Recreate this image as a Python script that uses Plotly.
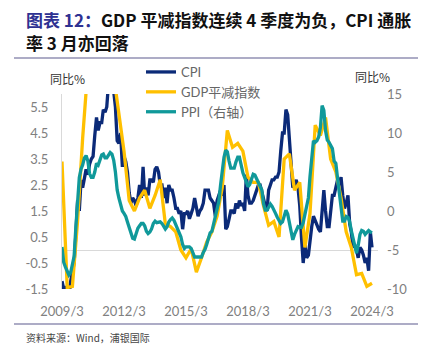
import pandas as pd
import plotly.graph_objects as go

# ---------------- data ----------------
cpi = [
    -1.2, -1.5, -1.4, -1.7, -1.8, -1.2, -0.8, -0.5, 0.6, 1.9,
    1.5, 2.7, 2.4, 2.8, 3.1, 2.9, 3.3, 3.5, 3.6, 4.4, 5.1, 4.6,
    4.9, 4.9, 5.4, 5.3, 5.5, 6.4, 6.5, 6.2, 6.1, 5.5, 4.2, 4.1,
    4.5, 3.2, 3.6, 3.4, 3.0, 2.2, 1.8, 2.0, 1.9, 1.7, 2.0, 2.5,
    2.0, 3.2, 2.1, 2.4, 2.1, 2.7, 2.7, 2.6, 3.1, 3.2, 3.0, 2.5,
    2.5, 2.0, 2.4, 1.8, 2.5, 2.3, 2.3, 2.0, 1.6, 1.6, 1.4, 1.5,
    0.8, 1.4, 1.4, 1.5, 1.2, 1.4, 1.6, 2.0, 1.6, 1.3, 1.5, 1.6,
    1.8, 2.3, 2.3, 2.3, 2.0, 1.9, 1.8, 1.3, 1.9, 2.1, 2.3, 2.1,
    2.5, 0.8, 0.9, 1.2, 1.5, 1.5, 1.4, 1.8, 1.6, 1.9, 1.7, 1.8,
    1.5, 2.9, 2.1, 1.8, 1.8, 1.9, 2.1, 2.3, 2.5, 2.5, 2.2, 1.9,
    1.7, 1.5, 2.3, 2.5, 2.7, 2.7, 2.8, 2.8, 3.0, 3.8, 4.5, 4.5,
    5.4, 5.2, 4.3, 3.3, 2.4, 2.5, 2.7, 2.4, 1.7, 0.5, -0.5, 0.2,
    -0.3, -0.2, 0.4, 0.9, 1.3, 1.1, 1.0, 0.8, 0.7, 1.5, 2.3, 1.5,
    0.9, 0.9, 1.5, 2.1, 2.1, 2.5, 2.7, 2.5, 2.8, 2.1, 1.6, 1.8,
    2.1, 1.0, 0.7, 0.1, 0.2, 0.0, -0.3, 0.1, 0.0, -0.2, -0.5, -0.3,
    -0.8, 0.7, 0.1,
]
ppi = [
    -4.6, -6.6, -7.2, -7.8, -8.2, -7.9, -7.0, -5.8, -2.1, 1.7,
    4.3, 5.4, 5.9, 6.8, 7.1, 6.4, 4.8, 4.3, 4.3, 5.0, 6.1, 5.9,
    6.6, 7.2, 7.3, 6.8, 6.8, 7.1, 7.5, 7.3, 6.5, 5.0, 2.7, 1.7,
    0.7, 0.0, -0.3, -0.7, -1.4, -2.1, -2.9, -3.5, -3.6, -2.8, -2.2, -1.9,
    -1.6, -1.6, -1.9, -2.6, -2.9, -2.7, -2.3, -1.6, -1.3, -1.5, -1.4, -1.4,
    -1.6, -2.0, -2.3, -2.0, -1.4, -1.1, -0.9, -1.2, -1.8, -2.2, -2.7, -3.3,
    -4.3, -4.8, -4.6, -4.6, -4.6, -4.8, -5.4, -5.9, -5.9, -5.9, -5.9, -5.9,
    -5.3, -4.9, -4.3, -3.4, -2.8, -2.6, -1.7, -0.8, 0.1, 1.2, 3.3, 5.5,
    6.9, 7.8, 7.6, 6.4, 5.5, 5.5, 5.5, 6.3, 6.9, 6.9, 5.8, 4.9,
    4.3, 3.7, 3.1, 3.4, 4.1, 4.7, 4.6, 4.1, 3.6, 3.3, 2.7, 0.9,
    0.1, 0.1, 0.4, 0.9, 0.6, 0.0, -0.3, -0.8, -1.2, -1.6, -1.4, -0.5,
    0.1, -0.4, -1.5, -3.1, -3.7, -3.0, -2.4, -2.0, -2.1, -2.1, -1.5, -0.4,
    0.3, 1.7, 4.4, 6.8, 9.0, 8.8, 9.0, 9.5, 10.7, 13.5, 12.9, 10.3,
    9.1, 8.8, 8.3, 8.0, 6.4, 6.1, 4.2, 2.3, 0.9, -1.3, -1.3, -0.7,
    -0.8, -1.4, -2.5, -3.6, -4.6, -5.4, -4.4, -3.0, -2.5, -2.6, -3.0, -2.7,
    -2.5, -2.7, -2.8,
]
gdp_deflator = [
    3.4, -1.45, -1.4, 1.1,
    4.3, 7.0, 6.8, 7.8,
    7.5, 8.0, 6.7, 5.3,
    3.8, 1.9, 1.5, 2.0,
    2.3, 1.6, 2.1, 2.7,
    1.0, 0.9, 0.7, 0.0,
    -0.3, 0.05, -0.85, -0.3,
    0.3, 0.7, 1.3, 2.4,
    4.6, 3.95, 4.1, 3.8,
    2.8, 2.6, 2.6, 1.7,
    0.95, 1.1, 0.5, 3.5,
    3.7, 2.3, 2.6, 0.1,
    1.4, 4.8, 4.4, 5.1,
    3.5, 3.0, 2.0, 0.7,
    0.1, -0.95, -0.9, -1.4,
    -1.28,
]
month_dates = pd.date_range("2009-03-01", periods=len(cpi), freq="MS")
quarter_dates = pd.date_range("2009-03-01", periods=len(gdp_deflator), freq="3MS")

x_tick_dates = ["2009-03-01", "2012-03-01", "2015-03-01", "2018-03-01", "2021-03-01", "2024-03-01"]
x_tick_text = ["2009/3", "2012/3", "2015/3", "2018/3", "2021/3", "2024/3"]
left_ticks = [-1.5, -0.5, 0.5, 1.5, 2.5, 3.5, 4.5, 5.5]
right_ticks = [-10, -5, 0, 5, 10, 15]

C_CPI = "#0b2a78"
C_GDP = "#ffc000"
C_PPI = "#10999a"

fig = go.Figure()
fig.add_trace(go.Scatter(x=month_dates, y=cpi, name="CPI", mode="lines",
                         line=dict(color=C_CPI, width=3.3)))
fig.add_trace(go.Scatter(x=quarter_dates, y=gdp_deflator, name="GDP平减指数", mode="lines",
                         line=dict(color=C_GDP, width=3.3)))
fig.add_trace(go.Scatter(x=month_dates, y=ppi, name="PPI（右轴）", mode="lines",
                         line=dict(color=C_PPI, width=3.3), yaxis="y2"))

L, R, T, B = 62, 48, 94, 65
W, H = 426, 354
PW, PH = W - L - R, H - T - B


def px(xp):
    return (xp - L) / PW


def py(yp):
    return (H - B - yp) / PH


tick_font = dict(family="Lato, Liberation Sans, sans-serif", size=13, color="#808080")

fig.update_layout(
    width=W, height=H,
    margin=dict(l=L, r=R, t=T, b=B, pad=0),
    paper_bgcolor="white", plot_bgcolor="white",
    showlegend=True,
    legend=dict(x=px(141), y=py(57), xanchor="left", yanchor="top",
                font=dict(family="Lato, Noto Sans CJK SC, sans-serif", size=13, color="#666666"),
                bgcolor="rgba(0,0,0,0)", borderwidth=0, tracegroupgap=0),
    xaxis=dict(type="date", range=["2009-03-01", "2024-06-15"],
               tickvals=x_tick_dates, ticktext=x_tick_text,
               showgrid=False, zeroline=False, showline=False,
               ticks="", tickfont=tick_font, ticklabelstandoff=13),
    yaxis=dict(range=[-1.5, 6], tickvals=left_ticks,
               ticktext=[f"{v:.1f}" for v in left_ticks],
               showgrid=False, zeroline=True, zerolinecolor="#d9d9d9", zerolinewidth=1,
               showline=True, linecolor="#d9d9d9", linewidth=1,
               ticks="", tickfont=tick_font, ticklabelstandoff=10, layer="below traces"),
    yaxis2=dict(range=[-10, 15], tickvals=right_ticks, ticktext=[str(v) for v in right_ticks],
                overlaying="y", side="right", showgrid=False, zeroline=False, showline=False,
                ticks="", tickfont=tick_font, ticklabelstandoff=8),
)

title_font = dict(family="Noto Sans CJK SC, sans-serif", size=17, color="#111111")
fig.add_annotation(xref="paper", yref="paper", x=px(24), y=py(19), xanchor="left", yanchor="middle",
                   showarrow=False, font=title_font,
                   text='<b><span style="color:#2e3192">图表 12：</span>GDP 平减指数连续 4 季度为负，CPI 通胀</b>')
fig.add_annotation(xref="paper", yref="paper", x=px(24), y=py(42), xanchor="left", yanchor="middle",
                   showarrow=False, font=title_font, text="<b>率 3 月亦回落</b>")
fig.add_annotation(xref="paper", yref="paper", x=px(67), y=py(78), xanchor="center", yanchor="middle",
                   showarrow=False, font=dict(family="Noto Sans CJK SC, sans-serif", size=12, color="#333333"),
                   text="同比%")
fig.add_annotation(xref="paper", yref="paper", x=px(372), y=py(76), xanchor="center", yanchor="middle",
                   showarrow=False, font=dict(family="Noto Sans CJK SC, sans-serif", size=12, color="#333333"),
                   text="同比%")
fig.add_annotation(xref="paper", yref="paper", x=px(24), y=py(337), xanchor="left", yanchor="middle",
                   showarrow=False, font=dict(family="Noto Sans CJK SC, sans-serif", size=10, color="#444444"),
                   text="资料来源：Wind，浦银国际")

for yy in (58, 324):
    fig.add_shape(type="line", xref="paper", yref="paper", x0=px(14), x1=px(418), y0=py(yy), y1=py(yy),
                  line=dict(color="#5c5a8e", width=1.2))

fig.write_html("out.html")
